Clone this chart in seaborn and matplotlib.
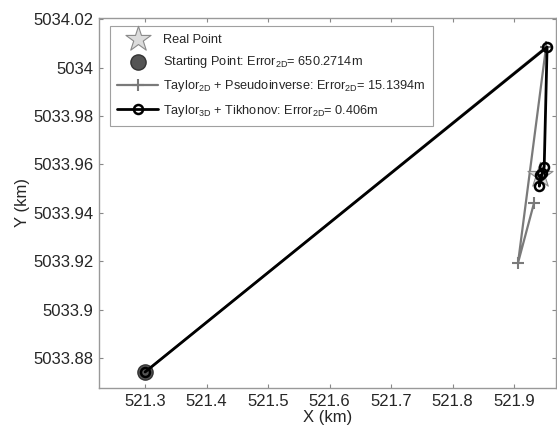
import matplotlib
matplotlib.use("Agg")
import matplotlib.pyplot as plt
import matplotlib.ticker as ticker
import seaborn as sns

# Points (km)
real_x, real_y = [521.9423], [5033.9557]
start_x, start_y = [521.300], [5033.8742]

taylor2d_x = [521.300, 521.9520, 521.9065, 521.9325]
taylor2d_y = [5033.8742, 5034.0085, 5033.9194, 5033.9441]

taylor3d_x = [521.300, 521.9537, 521.9490, 521.9460, 521.9410, 521.9425]
taylor3d_y = [5033.8742, 5034.0085, 5033.9590, 5033.9565, 5033.9510, 5033.9555]

x_ticks = [521.3, 521.4, 521.5, 521.6, 521.7, 521.8, 521.9]
y_ticks = [5033.88, 5033.90, 5033.92, 5033.94, 5033.96, 5033.98, 5034.00, 5034.02]

sns.set_style("white")
plt.rcParams['font.family'] = ['Liberation Sans', 'DejaVu Sans']
plt.rcParams['mathtext.fontset'] = 'custom'
plt.rcParams['mathtext.rm'] = 'Liberation Sans'
plt.rcParams['mathtext.it'] = 'Liberation Sans'

fig = plt.figure(figsize=(5.57, 4.32), dpi=100)
ax = fig.add_axes([0.1777, 0.1019, 0.8203, 0.8564])

# starting point under the black path
sns.scatterplot(x=start_x, y=start_y, ax=ax, marker='o', s=120, color='#555555',
                edgecolor='#333333', linewidth=1, zorder=3,
                label='Starting Point: Error$_{2D}$= 650.2714m')

sns.lineplot(x=taylor2d_x, y=taylor2d_y, ax=ax, sort=False, color='#7a7a7a', linewidth=1.6,
             marker='+', markersize=8, markeredgecolor='#7a7a7a', markeredgewidth=1.5, zorder=2,
             label='Taylor$_{2D}$ + Pseudoinverse: Error$_{2D}$= 15.1394m')

sns.scatterplot(x=real_x, y=real_y, ax=ax, marker='*', s=360, color='#dcdcdc',
                edgecolor='#8a8a8a', linewidth=0.8, zorder=4, label='Real Point')

sns.lineplot(x=taylor3d_x, y=taylor3d_y, ax=ax, sort=False, color='black', linewidth=2,
             marker='o', markersize=6.5, markerfacecolor='none', markeredgecolor='black',
             markeredgewidth=1.8, zorder=5,
             label='Taylor$_{3D}$ + Tikhonov: Error$_{2D}$= 0.406m')

ax.set_xlim(521.225, 521.968)
ax.set_ylim(5033.8676, 5034.0205)
ax.set_xticks(x_ticks)
ax.set_yticks(y_ticks)
ax.xaxis.set_major_formatter(ticker.FuncFormatter(lambda v, p: f"{round(v, 2):g}"))
ax.yaxis.set_major_formatter(ticker.FuncFormatter(lambda v, p: f"{round(v, 2):.6g}"))
ax.tick_params(direction='in', length=3, width=0.8, color='#888888', labelsize=12,
               top=True, right=True, bottom=True, left=True, pad=4)
for sp in ax.spines.values():
    sp.set_color('#999999')
    sp.set_linewidth(1)

ax.set_xlabel('X (km)', fontsize=12, labelpad=1)
ax.set_ylabel('Y (km)', fontsize=12, labelpad=2)

handles, labels = ax.get_legend_handles_labels()
order = [labels.index(l) for l in ['Real Point', 'Starting Point: Error$_{2D}$= 650.2714m',
                                    'Taylor$_{2D}$ + Pseudoinverse: Error$_{2D}$= 15.1394m',
                                    'Taylor$_{3D}$ + Tikhonov: Error$_{2D}$= 0.406m']]
leg = ax.legend([handles[i] for i in order], [labels[i] for i in order], loc='upper left',
                bbox_to_anchor=(0.018, 0.985), fontsize=9.2, frameon=True, fancybox=False,
                edgecolor='#888888', handlelength=3.2, borderpad=0.6, labelspacing=0.65,
                handletextpad=0.4, borderaxespad=0.2)
leg.get_frame().set_linewidth(0.8)

fig.savefig('out.png', dpi=100)
